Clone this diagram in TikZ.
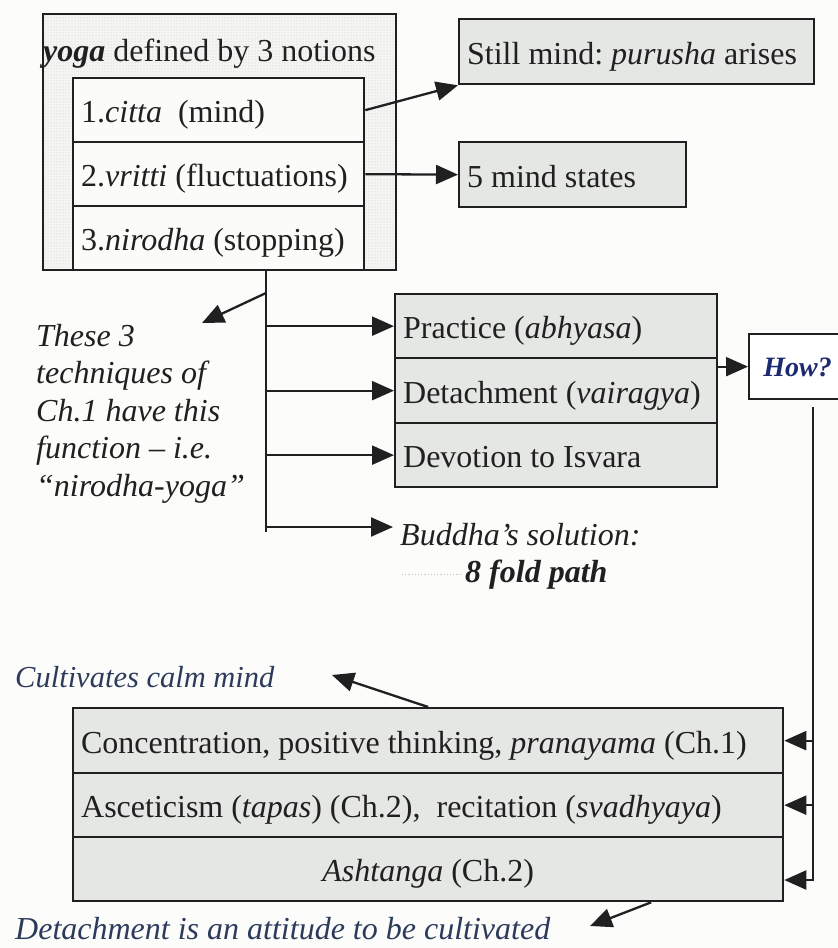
\documentclass[tikz,border=0pt]{standalone}
\usepackage{fontspec}
\setmainfont{Liberation Serif}
\usetikzlibrary{arrows.meta,patterns,calc}

\definecolor{paper}{RGB}{252,252,250}
\definecolor{boxgray}{RGB}{229,231,228}
\definecolor{yogabg}{RGB}{245,245,243}
\definecolor{rowwhite}{RGB}{251,251,249}
\definecolor{ink}{RGB}{32,32,32}
\definecolor{noteblue}{RGB}{44,58,92}
\definecolor{howblue}{RGB}{30,42,112}

\begin{document}
\frenchspacing
\begin{tikzpicture}[x=1pt,y=-1pt,
  every node/.style={font=\fontsize{32}{37.5}\selectfont, text=ink},
  frame/.style={draw=ink, line width=2.3pt},
  row/.style={frame, anchor=north west, inner xsep=8pt, inner ysep=0pt,
    text height=25pt, text depth=0pt, align=flush left},
  note/.style={font=\fontsize{32}{37.5}\selectfont\itshape},
  link/.style={draw=ink, line width=2.3pt},
  arrow/.style={link, -{Triangle[length=22pt,width=19pt]}},
  leader/.style={draw=gray!45, line width=1.2pt, dotted},
]
% page
\fill[paper] (0,0) rectangle (838,948);
\useasboundingbox (0,0) rectangle (838,948);

% the three notions of yoga
\node[frame, anchor=north west, minimum width=353pt, minimum height=256pt,
  inner sep=0pt, preaction={fill=yogabg}, pattern=dots, pattern color=gray!45] (yoga) at (42,13) {};
\node[anchor=base west, inner sep=0pt] (title) at (43,61)
  {\textbf{\textit{yoga}} defined by 3 notions};
\node[row, fill=rowwhite, text width=275pt, minimum height=64pt] (n1) at (72,77)
  {1.\textit{citta}\hspace{0.5em}(mind)};
\node[row, fill=rowwhite, text width=275pt, minimum height=64pt] (n2) at (72,141)
  {2.\textit{vritti} (fluctuations)};
\node[row, fill=rowwhite, text width=275pt, minimum height=64pt] (n3) at (72,205)
  {3.\textit{nirodha} (stopping)};

% results on the right
\node[row, fill=boxgray, text width=339pt, minimum height=65pt] (still) at (458,18)
  {Still mind: \textit{purusha} arises};
\node[row, fill=boxgray, text width=211pt, minimum height=65pt] (states) at (458,141)
  {5 mind states};

% the three techniques
\node[row, fill=boxgray, text width=306pt, minimum height=64pt] (p1) at (394,293)
  {Practice (\textit{abhyasa})};
\node[row, fill=boxgray, text width=306pt, minimum height=65pt] (p2) at (394,357)
  {Detachment (\textit{vairagya})};
\node[row, fill=boxgray, text width=306pt, minimum height=64pt] (p3) at (394,422)
  {Devotion to Isvara};

\node[frame, fill=white, anchor=north west, minimum width=97pt, minimum height=65pt,
  inner sep=0pt, text height=20pt, text depth=0pt, text=howblue,
  font=\fontsize{28}{32}\selectfont\bfseries\itshape] (how) at (748,333) {How?};

% side notes
\node[note, anchor=north west, align=flush left, inner sep=0pt] (tech) at (36,324)
  {These 3\\techniques of\\Ch.1 have this\\function -- i.e.\\“nirodha-yoga”};
\node[note, anchor=base west, inner xsep=7pt, inner ysep=0pt] (buddha) at (393,545)
  {Buddha’s solution:};
\node[note, anchor=base west, inner sep=0pt, font=\fontsize{32}{37.5}\selectfont\bfseries\itshape]
  (eightfold) at (465,582) {8 fold path};

% the means of cultivation
\node[row, fill=boxgray, text width=694pt, minimum height=65pt] (l1) at (72,707)
  {Concentration, positive thinking, \textit{pranayama} (Ch.1)};
\node[row, fill=boxgray, text width=694pt, minimum height=64pt] (l2) at (72,772)
  {Asceticism (\textit{tapas}) (Ch.2),\ \ recitation (\textit{svadhyaya})};
\node[row, fill=boxgray, text width=694pt, minimum height=64pt, align=flush center] (l3) at (72,836)
  {\textit{Ashtanga} (Ch.2)};

\node[anchor=base west, inner sep=0pt, text=noteblue,
  font=\fontsize{30.5}{36}\selectfont\itshape] (calm) at (15,687) {Cultivates calm mind};
\node[anchor=base west, inner sep=0pt, text=noteblue,
  font=\fontsize{32}{36}\selectfont\itshape] (detach) at (15,939)
  {Detachment is an attitude to be cultivated};

% connectors
\coordinate (trunk) at (266,527);
\coordinate (fork) at (266,293);
\coordinate (techTip) at (202,323);
\coordinate (spine) at (813,880);
\coordinate (calmTip) at (332,675);
\coordinate (detachTip) at (590,926);

\draw[arrow] (n1.east) -- (still.south west);
\draw[arrow] (n2.east) -- (states.west);

\draw[link] (trunk |- n3.south) -- ($(trunk)+(0,5)$);
\draw[arrow] (fork) -- (techTip);
\draw[arrow] (p1.west -| trunk) -- (p1.west);
\draw[arrow] (p2.west -| trunk) -- (p2.west);
\draw[arrow] (p3.west -| trunk) -- (p3.west);
\draw[arrow] (trunk) -- (trunk -| buddha.west);
\draw[leader] ($(buddha.west |- eightfold.west)+(9,0)$) -- ($(eightfold.west)+(-5,0)$);

\draw[arrow] (how.west -| p2.east) -- (how.west);
\draw[arrow] ($(spine |- how.south)+(0,7)$) -- (spine) -- (spine -| l3.east);
\draw[arrow] (l1.east -| spine) -- (l1.east);
\draw[arrow] (l2.east -| spine) -- (l2.east);

\draw[arrow] (l1.north) -- (calmTip);
\draw[arrow] ($(l3.south)+(223,0)$) -- (detachTip);
\end{tikzpicture}
\end{document}
